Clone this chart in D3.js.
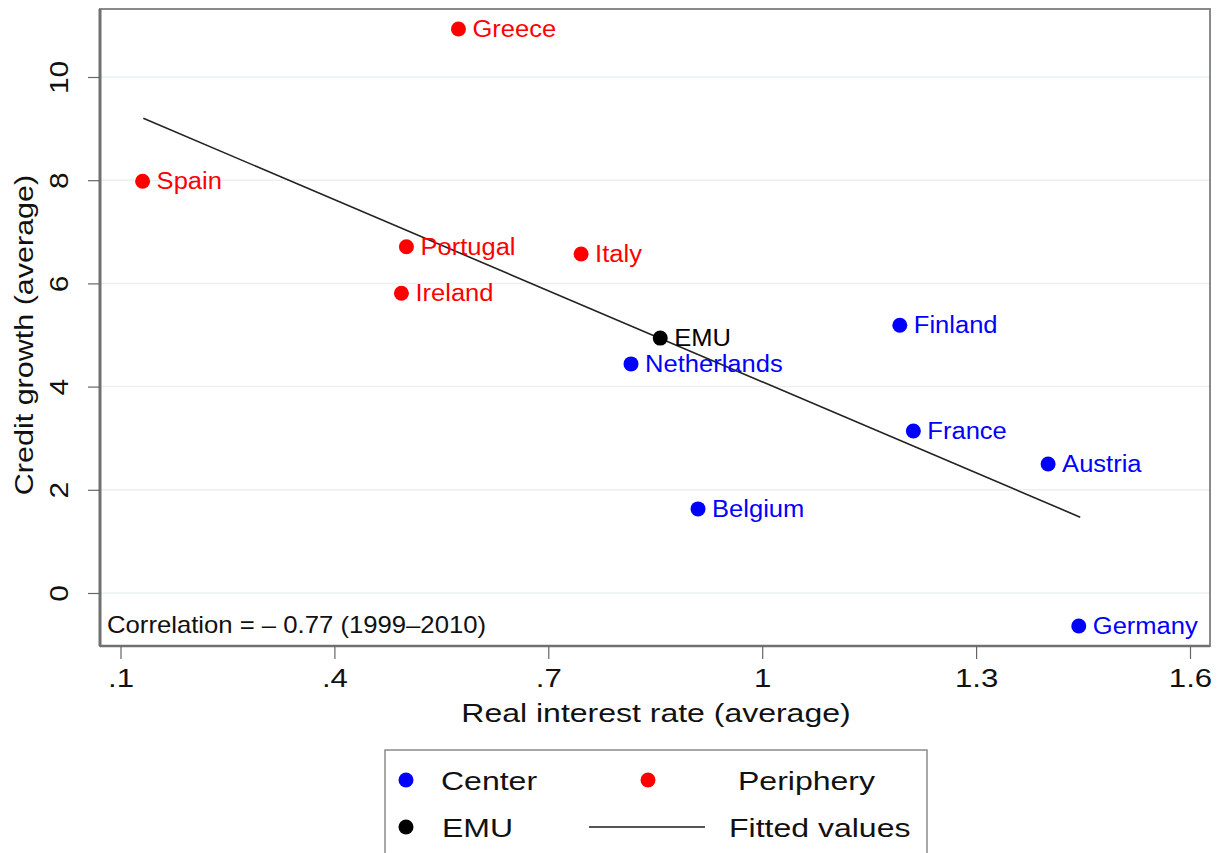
<!DOCTYPE html>
<html><head><meta charset="utf-8">
<script src="https://cdn.jsdelivr.net/npm/d3@7"></script>
<style>body{margin:0;background:#fff}svg{display:block;font-family:"Liberation Sans",Arial,Helvetica,sans-serif}</style>
</head><body><svg id="c" width="1230" height="853"></svg>
<script>
const countries = ["Greece","Spain","Portugal","Ireland","Italy","EMU","Netherlands","Finland","France","Austria","Belgium","Germany"];
const groups    = ["Periphery","Periphery","Periphery","Periphery","Periphery","EMU","Center","Center","Center","Center","Center","Center"];
const realRate  = [0.574,0.131,0.501,0.494,0.746,0.857,0.816,1.193,1.212,1.401,0.910,1.444];
const credit    = [10.93,7.98,6.71,5.81,6.57,4.94,4.44,5.19,3.14,2.50,1.63,-0.64];
const fitX = [0.132,1.446];
const fitY = [9.20,1.47];
const xTicks = [0.1,0.4,0.7,1.0,1.3,1.6];
const xTickLabels = [".1",".4",".7","1","1.3","1.6"];
const yTicks = [0,2,4,6,8,10];
const legendItems = ["Center","Periphery","EMU","Fitted values"];

const colors = {Center:"#0000ff",Periphery:"#ff0000",EMU:"#000000"};
const svg = d3.select("#c");
const L=100,R=1210,T=9,B=646;
const x = d3.scaleLinear().domain([0.1,1.6]).range([120.5,1190]);
const y = d3.scaleLinear().domain([0,10]).range([593,77]);

function stretch(sel,k){
  sel.each(function(){
    const l=this.getComputedTextLength();
    this.setAttribute("textLength",l*k);
    this.setAttribute("lengthAdjust","spacingAndGlyphs");
  });
}

// gridlines
svg.append("g").selectAll("line").data(yTicks).join("line")
  .attr("x1",L).attr("x2",R).attr("y1",d=>y(d)).attr("y2",d=>y(d))
  .attr("stroke","#eaf0f0").attr("stroke-width",1.5);

// frame
svg.append("rect").attr("x",L).attr("y",T).attr("width",R-L).attr("height",B-T)
  .attr("fill","none").attr("stroke","#8a8a8a").attr("stroke-width",2);
svg.append("line").attr("x1",L).attr("x2",L).attr("y1",T).attr("y2",B).attr("stroke","#707070").attr("stroke-width",3);
svg.append("line").attr("x1",L).attr("x2",R).attr("y1",B).attr("y2",B).attr("stroke","#707070").attr("stroke-width",2.5);

// x axis
const xa = svg.append("g").attr("transform",`translate(0,${B})`)
  .call(d3.axisBottom(x).tickValues(xTicks).tickSize(13).tickPadding(10).tickFormat((d,i)=>xTickLabels[i]));
xa.select(".domain").remove();
xa.selectAll("line").attr("stroke","#666").attr("stroke-width",1.2);
xa.selectAll("text").attr("font-size",26).attr("fill","#111").attr("font-family","Liberation Sans, Arial, sans-serif");
stretch(xa.selectAll("text"),1.2);

// y axis
const ya = svg.append("g").attr("transform",`translate(${L},0)`)
  .call(d3.axisLeft(y).tickValues(yTicks).tickSize(12).tickFormat(d3.format("d")).tickPadding(0));
ya.select(".domain").remove();
ya.selectAll("line").attr("stroke","#666").attr("stroke-width",1.2);
ya.selectAll("text").attr("font-size",26).attr("fill","#111").attr("font-family","Liberation Sans, Arial, sans-serif")
  .attr("text-anchor","middle").attr("x",0).attr("dy",0)
  .attr("transform","translate(-32,0) rotate(-90)");
stretch(ya.selectAll("text"),1.15);

// axis titles
const xt = svg.append("text").attr("x",(L+R)/2 + 1).attr("y",722).attr("text-anchor","middle")
  .attr("font-size",26).attr("fill","#111").text("Real interest rate (average)");
stretch(xt,1.23);
const yt = svg.append("text").attr("transform",`translate(33,335) rotate(-90)`).attr("text-anchor","middle")
  .attr("font-size",25).attr("fill","#111").text("Credit growth (average)");
stretch(yt,1.22);

// fitted line
const line = d3.line().x(d=>x(d[0])).y(d=>y(d[1]));
svg.append("path").datum(fitX.map((v,i)=>[v,fitY[i]])).attr("d",line)
  .attr("fill","none").attr("stroke","#222").attr("stroke-width",1.6);

// points
const data = countries.map((c,i)=>({c,g:groups[i],x:realRate[i],y:credit[i]}));
const pts = svg.append("g").selectAll("g").data(data).join("g")
  .attr("transform",d=>`translate(${x(d.x)},${y(d.y)})`);
pts.append("circle").attr("r",7.5).attr("fill",d=>colors[d.g]);
const lbl = pts.append("text").attr("x",14).attr("y",8).attr("font-size",23)
  .attr("fill",d=>colors[d.g]).text(d=>d.c);
stretch(lbl,1.11);

// correlation note
const cn = svg.append("text").attr("x",107).attr("y",633).attr("font-size",24).attr("fill","#111")
  .text("Correlation = \u2013 0.77 (1999\u20132010)");
stretch(cn,1.07);

// legend
const lg = svg.append("g");
lg.append("rect").attr("x",385).attr("y",750).attr("width",542).attr("height",110)
  .attr("fill","#fff").attr("stroke","#8a8a8a").attr("stroke-width",1.5);
lg.append("circle").attr("cx",406).attr("cy",780).attr("r",7.5).attr("fill",colors.Center);
lg.append("circle").attr("cx",648).attr("cy",780).attr("r",7.5).attr("fill",colors.Periphery);
lg.append("circle").attr("cx",406).attr("cy",827).attr("r",7.5).attr("fill",colors.EMU);
lg.append("line").attr("x1",589).attr("x2",705).attr("y1",827).attr("y2",827).attr("stroke","#555").attr("stroke-width",2);
const lt = lg.append("g").selectAll("text").data([
  {t:legendItems[0],x:441,y:790},{t:legendItems[1],x:738,y:790},
  {t:legendItems[2],x:442,y:837},{t:legendItems[3],x:729,y:837}]).join("text")
  .attr("x",d=>d.x).attr("y",d=>d.y).attr("font-size",25).attr("fill","#111").text(d=>d.t);
stretch(lt,1.28);
</script></body></html>
